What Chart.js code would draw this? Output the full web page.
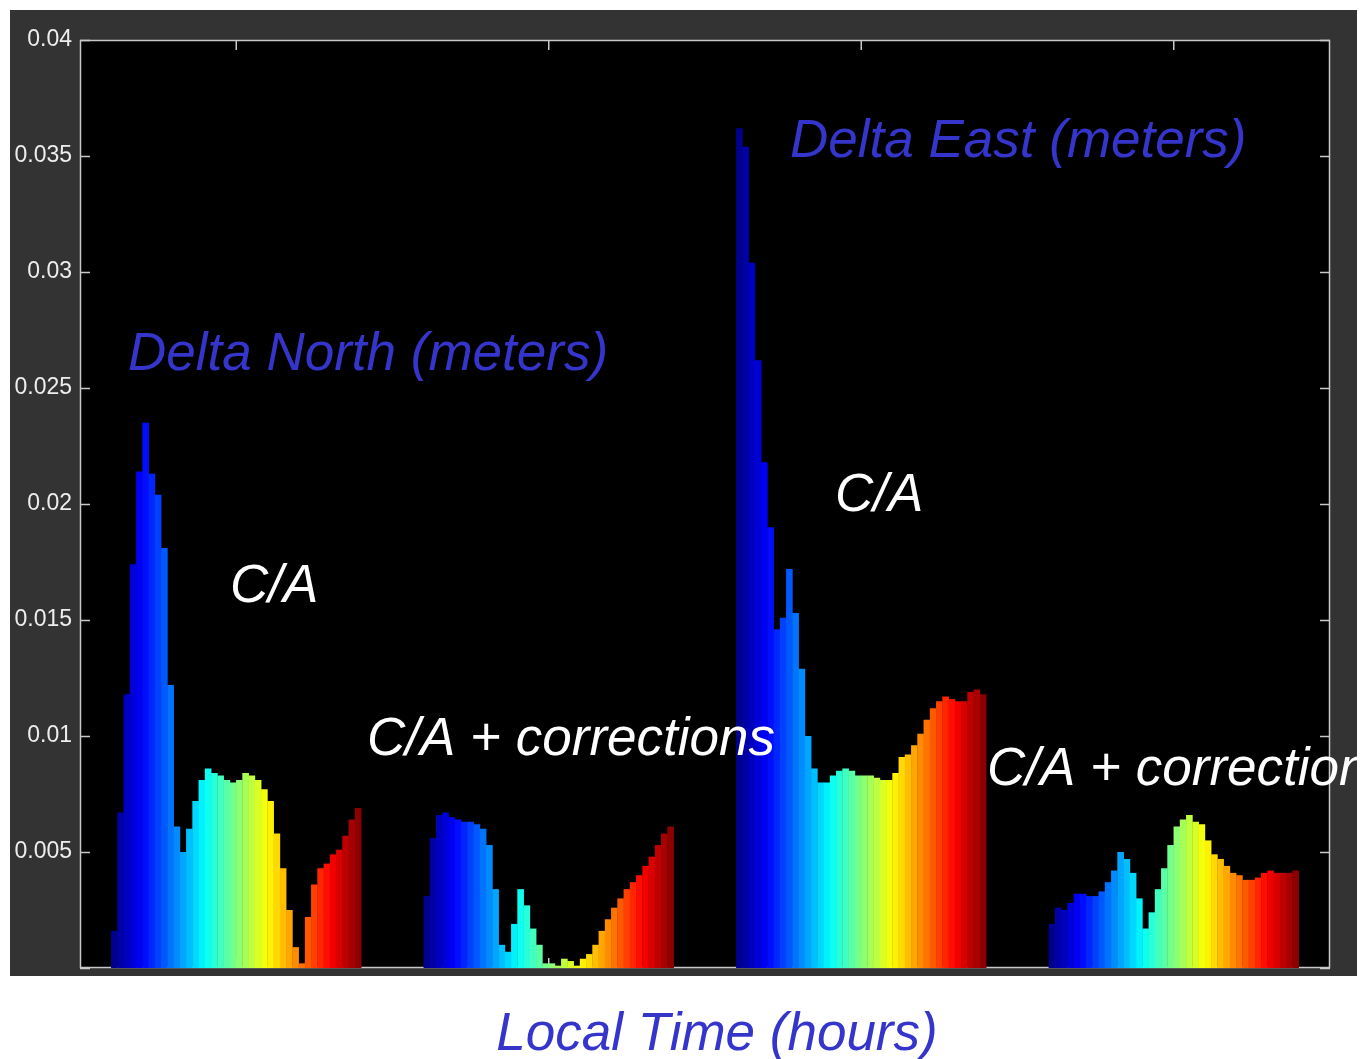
<!DOCTYPE html>
<html>
<head>
<meta charset="utf-8">
<script src="https://cdn.jsdelivr.net/npm/chart.js@4"></script>
<style>
  html, body { margin: 0; padding: 0; background: #fff; }
  canvas { display: block; }
</style>
</head>
<body>
<canvas id="barChart" width="1363" height="1059"></canvas>
<script>
// bar heights (meters), 40 bars per block
const northCA = [0.0016, 0.0067, 0.0118, 0.0174, 0.0214, 0.0235, 0.0213, 0.0204, 0.0181, 0.0122,
  0.0061, 0.0050, 0.0060, 0.0072, 0.0081, 0.0086, 0.0084, 0.0083, 0.0081, 0.0080,
  0.0081, 0.0084, 0.0083, 0.0081, 0.0077, 0.0072, 0.0058, 0.0043, 0.0025, 0.0009,
  0.0002, 0.0022, 0.0036, 0.0043, 0.0045, 0.0049, 0.0051, 0.0057, 0.0064, 0.0069];
const northCorr = [0.0031, 0.0056, 0.0066, 0.0067, 0.0065, 0.0064, 0.0063, 0.0063, 0.0062, 0.0060,
  0.0053, 0.0034, 0.0010, 0.0007, 0.0019, 0.0034, 0.0027, 0.0017, 0.0010, 0.0002,
  0.0002, 0.0001, 0.0004, 0.0003, 0.0001, 0.0004, 0.0006, 0.0010, 0.0016, 0.0021,
  0.0026, 0.0030, 0.0034, 0.0037, 0.0040, 0.0044, 0.0048, 0.0053, 0.0058, 0.0061];
const eastCA = [0.0362, 0.0354, 0.0304, 0.0262, 0.0218, 0.0190, 0.0146, 0.0151, 0.0172, 0.0153,
  0.0129, 0.0100, 0.0086, 0.0080, 0.0080, 0.0083, 0.0085, 0.0086, 0.0085, 0.0083,
  0.0083, 0.0083, 0.0082, 0.0081, 0.0081, 0.0084, 0.0091, 0.0092, 0.0096, 0.0101,
  0.0107, 0.0112, 0.0115, 0.0117, 0.0116, 0.0115, 0.0115, 0.0119, 0.0120, 0.0118];
const eastCorr = [0.0019, 0.0026, 0.0025, 0.0028, 0.0032, 0.0032, 0.0031, 0.0031, 0.0033, 0.0037,
  0.0042, 0.0050, 0.0047, 0.0041, 0.0030, 0.0017, 0.0024, 0.0034, 0.0043, 0.0053,
  0.0061, 0.0064, 0.0066, 0.0063, 0.0062, 0.0055, 0.0049, 0.0047, 0.0044, 0.0041,
  0.0040, 0.0038, 0.0038, 0.0039, 0.0041, 0.0042, 0.0041, 0.0041, 0.0041, 0.0042];

const yTickLabels = ["", "0.005", "0.01", "0.015", "0.02", "0.025", "0.03", "0.035", "0.04"];

const blocks = [northCA, northCorr, eastCA, eastCorr];
const gap = 5; // empty slots on each side of a block

// matlab style jet colormap
function jet(t) {
  const c = (x) => Math.round(255 * Math.min(1, Math.max(0, 1.5 - Math.abs(x))));
  return `rgb(${c(4 * t - 3)},${c(4 * t - 2)},${c(4 * t - 1)})`;
}

const labels = [];
const values = [];
const colors = [];
blocks.forEach((block) => {
  for (let i = 0; i < gap; i++) { values.push(null); colors.push("#000"); }
  block.forEach((v, i) => {
    values.push(v);
    colors.push(jet((i + 0.5) / block.length));
  });
  for (let i = 0; i < gap; i++) { values.push(null); colors.push("#000"); }
});
values.forEach((v, i) => labels.push(String(i)));

const FONT = '"Liberation Sans", Arial, Helvetica, sans-serif';
Chart.defaults.font.family = FONT;

const framePlugin = {
  id: "frame",
  beforeDraw(chart) {
    const { ctx, chartArea: a } = chart;
    ctx.save();
    ctx.fillStyle = "#fff";
    ctx.fillRect(0, 0, chart.width, chart.height);
    ctx.fillStyle = "#333";
    ctx.fillRect(10, 10, 1347, 966);
    ctx.fillStyle = "#000";
    ctx.fillRect(a.left, a.top, a.right - a.left, a.bottom - a.top);
    ctx.restore();
  },
  beforeDatasetsDraw(chart) {
    const { ctx, chartArea: a, scales } = chart;
    ctx.save();
    ctx.strokeStyle = "#c8c8c8";
    ctx.lineWidth = 1.5;
    ctx.strokeRect(a.left + 0.5, a.top + 0.5, a.right - a.left - 1, a.bottom - a.top - 1);
    ctx.beginPath();
    scales.y.ticks.forEach((t) => {
      const y = Math.round(scales.y.getPixelForValue(t.value)) + 0.5;
      ctx.moveTo(a.left, y); ctx.lineTo(a.left + 10, y);
      ctx.moveTo(a.right, y); ctx.lineTo(a.right - 10, y);
    });
    for (let q = 0; q < blocks.length; q++) {
      const mid = q * (40 + 2 * gap) + 25;
      const x = (scales.x.getPixelForValue(mid - 1) + scales.x.getPixelForValue(mid)) / 2;
      ctx.moveTo(x, a.top); ctx.lineTo(x, a.top + 10);
      ctx.moveTo(x, a.bottom); ctx.lineTo(x, a.bottom - 10);
    }
    ctx.stroke();
    ctx.restore();
  },
  afterDraw(chart) {
    const ctx = chart.ctx;
    ctx.save();
    ctx.beginPath();
    ctx.rect(10, 10, 1347, 966);
    ctx.clip();
    ctx.font = "italic 53px " + FONT;
    ctx.textAlign = "left";
    ctx.textBaseline = "alphabetic";
    ctx.fillStyle = "#3535cc";
    ctx.fillText("Delta North (meters)", 128, 370);
    ctx.fillText("Delta East (meters)", 790, 157);
    ctx.fillStyle = "#fff";
    ctx.fillText("C/A", 230, 602);
    ctx.fillText("C/A + corrections", 367, 755);
    ctx.fillText("C/A", 835, 511);
    ctx.fillText("C/A + corrections", 987, 785);
    ctx.restore();
    ctx.save();
    ctx.font = "italic 53px " + FONT;
    ctx.fillStyle = "#3535cc";
    ctx.textAlign = "center";
    ctx.fillText("Local Time (hours)", 717, 1050);
    ctx.restore();
  }
};

const ctx = document.getElementById("barChart").getContext("2d");
const myChart = new Chart(ctx, {
  type: "bar",
  data: {
    labels: labels,
    datasets: [
      {
        data: values,
        backgroundColor: colors,
        borderWidth: 0,
        barPercentage: 1.06,
        categoryPercentage: 1,
      },
    ],
  },
  options: {
    responsive: false,
    animation: false,
    layout: { padding: { left: 10, top: 40, right: 33, bottom: 91 } },
    plugins: {
      legend: { display: false },
      tooltip: { enabled: false },
    },
    scales: {
      x: { display: false, offset: true },
      y: {
        min: 0,
        max: 0.04,
        afterFit: (scale) => { scale.width = 70; },
        grid: { display: false, drawTicks: false },
        border: { display: false },
        ticks: {
          stepSize: 0.005,
          padding: 8,
          color: "#eeeeee",
          font: { size: 23 },
          callback: (value, index) => yTickLabels[index],
        },
      },
    },
  },
  plugins: [framePlugin],
});
</script>
</body>
</html>
